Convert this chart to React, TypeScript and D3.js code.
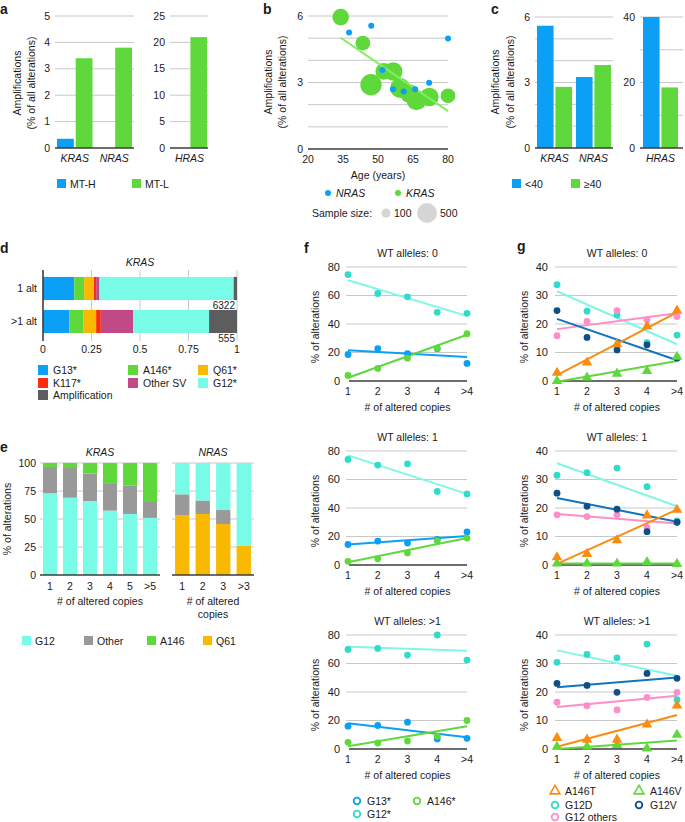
import React from "react";
import * as d3 from "d3";

const FONT = "'Liberation Sans', Arial, Helvetica, sans-serif";
const FS = 10.5;
const GRID = "#c8c8c8";
const AXIS = "#3c3c3c";
const BLUE = "#0ba0f6";
const GREEN = "#5fd83b";
const YELLOW = "#f8b900";
const RED = "#fb2d0b";
const MAGENTA = "#c14a86";
const CYAN = "#79fce7";
const DGRAY = "#5d5d5d";
const MGRAY = "#999999";
const TURQ = "#2fdcc9";
const TURQ_LINE = "#80f6e7";
const ORANGE = "#fa8c10";
const NAVY = "#0d4f86";
const NAVY_LINE = "#1373bd";
const PINK = "#ff8dc8";
const LGREEN_LINE = "#7ff05a";

// ---------- Panel a ----------
const aGenesLeft = ["KRAS", "NRAS"];
const aMTHLeft = [0.35, 0];
const aMTLLeft = [3.4, 3.8];
const aGenesRight = ["HRAS"];
const aMTHRight = [0];
const aMTLRight = [21];
const aTicksLeft = [0, 1, 2, 3, 4, 5];
const aTicksRight = [0, 5, 10, 15, 20, 25];

// ---------- Panel b ----------
const bKrasAge = [34, 43.5, 47, 52.5, 56.5, 59.5, 63.5, 66.5, 72, 80];
const bKrasAmp = [5.95, 4.78, 2.9, 3.5, 3.5, 2.75, 2.5, 2.2, 2.35, 2.4];
const bKrasN = [345, 270, 570, 350, 430, 500, 430, 500, 430, 270];
const bNrasAge = [37.6, 47.1, 51.9, 56.4, 61, 65.9, 71.9, 80];
const bNrasAmp = [5.26, 5.56, 3.56, 2.69, 2.59, 2.69, 2.99, 4.99];
const bNrasN = [45, 45, 45, 45, 45, 45, 45, 45];
const bFitAge = [34, 80];
const bFitAmp = [5.02, 1.71];
const bXTicks = [20, 35, 50, 65, 80];
const bYGrid = [1, 2, 3, 4, 5, 6];
const bYLabels = [0, 3, 6];
const bSizeLegend = [100, 500];

// ---------- Panel c ----------
const cGenesLeft = ["KRAS", "NRAS"];
const cYoungLeft = [5.6, 3.25];
const cOldLeft = [2.8, 3.8];
const cGenesRight = ["HRAS"];
const cYoungRight = [40];
const cOldRight = [18.5];
const cGridLeft = [0, 1, 2, 3, 4, 5, 6];
const cLabelsLeft = [0, 3, 6];
const cGridRight = [0, 10, 20, 30, 40];
const cLabelsRight = [0, 20, 40];

// ---------- Panel d ----------
const dRows = ["1 alt", ">1 alt"];
const dKeys = ["G13*", "A146*", "Q61*", "K117*", "Other SV", "G12*", "Amplification"];
const dColors = [BLUE, GREEN, YELLOW, RED, MAGENTA, CYAN, DGRAY];
const dOneAlt = [0.161, 0.051, 0.05, 0.012, 0.017, 0.692, 0.017];
const dMultiAlt = [0.135, 0.072, 0.067, 0.024, 0.166, 0.392, 0.144];
const dCounts = [6322, 555];
const dTicks = [0, 0.25, 0.5, 0.75, 1];
const dTickLabels = ["0", "0.25", "0.5", "0.75", "1"];

// ---------- Panel e ----------
const eKrasCopies = ["1", "2", "3", "4", "5", ">5"];
const eKrasG12 = [73, 69, 66, 57.5, 54.5, 51];
const eKrasOther = [23.5, 26.5, 24.5, 24.5, 25.5, 15];
const eKrasA146 = [3.5, 4.5, 9.5, 18, 20, 34];
const eNrasCopies = ["1", "2", "3", ">3"];
const eNrasQ61 = [53.5, 54.5, 45.5, 26];
const eNrasOther = [18.5, 12, 12.5, 0];
const eNrasG12 = [28, 33.5, 42, 74];
const eTicks = [0, 25, 50, 75, 100];

// ---------- Panels f & g ----------
const copies = ["1", "2", "3", "4", ">4"];
const fTicks = [0, 20, 40, 60, 80];
const gTicks = [0, 10, 20, 30, 40];
const wtTitles = ["WT  alleles: 0", "WT  alleles: 1", "WT  alleles: >1"];

const fG13 = [
  [18.6, 22.7, 19.2, 22.7, 12.3],
  [14.4, 16.8, 15.4, 18.0, 23.2],
  [16, 16.5, 18.8, 7.1, 7.5],
];
const fG13Fit = [[21.6, 16.9], [14.4, 20.4], [18.1, 8.2]];
const fG12 = [
  [74.7, 61.4, 59.1, 48.2, 47.5],
  [74.1, 70.1, 71.0, 51.6, 49.9],
  [69.9, 70.6, 65.9, 80, 62.4],
];
const fG12Fit = [[70.7, 45.7], [76.9, 49.9], [71.8, 68.9]];
const fA146 = [
  [3.9, 8.8, 16, 23, 33.2],
  [2.6, 4.3, 8.5, 17, 18.9],
  [4.7, 4.2, 5.6, 9, 20],
];
const fA146Fit = [[2.3, 32.5], [1.9, 18.9], [1.9, 16]];

const gA146T = [
  [2.9, 6.5, 12.9, 19.1, 24.7],
  [2.7, 3.9, 8.7, 17.4, 19.4],
  [3.9, 3.3, 3.3, 8.6, 15.3],
];
const gA146TFit = [[2.1, 24.1], [0.4, 19.4], [0.8, 11.9]];
const gA146V = [
  [0, 1.2, 2.6, 3.5, 8.5],
  [0.5, 0.5, 0.5, 1, 0.4],
  [0.8, 0.8, 1.4, 0.2, 5],
];
const gA146VFit = [[-0.3, 7], [0.5, 0.5], [0, 3]];
const gG12D = [
  [33.8, 24.5, 23.2, 13.5, 16.1],
  [31.5, 32.4, 34, 27.5, 15.5],
  [30.4, 33.2, 32, 36.8, 17.3],
];
const gG12DFit = [[31.5, 12.9], [35.7, 20.6], [34.6, 25.7]];
const gG12V = [
  [24.7, 15.3, 10.9, 12.7, 8],
  [25.2, 20.6, 19.6, 11.7, 15],
  [23, 22.3, 19.9, 26.5, 24.8],
];
const gG12VFit = [[21.8, 7.3], [23.5, 15.2], [21.7, 25.1]];
const gG12O = [
  [15.9, 20.9, 24.7, 21.5, 22.6],
  [17.6, 17, 17.6, 13.2, 15],
  [16.4, 15.2, 13.7, 18.1, 19.9],
];
const gG12OFit = [[18.2, 23.8], [17.9, 14.6], [14.7, 18.7]];

// ---------- helpers ----------
const PanelLabel = ({ x, y, t }: { x: number; y: number; t: string }) => (
  <text x={x} y={y} fontSize={14} fontWeight="bold">{t}</text>
);

const VText = ({ x, y, t, fs = FS }: { x: number; y: number; t: string; fs?: number }) => (
  <text transform={`translate(${x},${y}) rotate(-90)`} textAnchor="middle" fontSize={fs}>{t}</text>
);

function GroupedBars(p: {
  gridL: number; gridR: number; bandL: number; bandR: number; top: number; bottom: number;
  max: number; grid: number[]; labels: number[]; genes: string[]; series: number[][]; colors: string[];
}) {
  const y = d3.scaleLinear().domain([0, p.max]).range([p.bottom, p.top]);
  const x0 = d3.scaleBand<string>().domain(p.genes).range([p.bandL, p.bandR]);
  const keys = p.series.map((_, i) => String(i));
  const x1 = d3.scaleBand<string>().domain(keys).range([2, x0.bandwidth() - 2]).paddingInner(0.1);
  return (
    <g>
      {p.grid.filter((t) => t > 0).map((t) => (
        <line key={t} x1={p.gridL} x2={p.gridR} y1={y(t)} y2={y(t)} stroke={GRID} strokeWidth={1} />
      ))}
      {p.labels.map((t) => (
        <text key={t} x={p.gridL - 5} y={y(t)} dy="0.35em" textAnchor="end" fontSize={FS}>{t}</text>
      ))}
      {p.genes.map((g, gi) =>
        p.series.map((s, si) =>
          s[gi] > 0 ? (
            <rect key={g + si} x={(x0(g) as number) + (x1(String(si)) as number)} y={y(s[gi])}
              width={x1.bandwidth()} height={y(0) - y(s[gi])} fill={p.colors[si]} />
          ) : null
        )
      )}
      <line x1={p.gridL} x2={p.gridR} y1={y(0)} y2={y(0)} stroke={AXIS} strokeWidth={1.6} />
      {p.genes.map((g) => (
        <text key={g} x={(x0(g) as number) + x0.bandwidth() / 2} y={p.bottom + 14} textAnchor="middle"
          fontSize={FS} fontStyle="italic">{g}</text>
      ))}
    </g>
  );
}

function SquareLegend({ items, y }: { items: { x: number; label: string; color: string; italic?: boolean }[]; y: number }) {
  return (
    <g>
      {items.map((it) => (
        <g key={it.label}>
          <rect x={it.x} y={y - 5} width={9} height={9} fill={it.color} />
          <text x={it.x + 13} y={y} dy="0.35em" fontSize={FS} fontStyle={it.italic ? "italic" : "normal"}>{it.label}</text>
        </g>
      ))}
    </g>
  );
}

// ---------- Panel b ----------
function PanelB() {
  const x = d3.scaleLinear().domain([20, 80]).range([308, 448]);
  const y = d3.scaleLinear().domain([0, 6]).range([149, 16]);
  const r = d3.scaleSqrt().domain([0, 500]).range([0, 10]);
  return (
    <g>
      <PanelLabel x={263} y={14} t="b" />
      {bYGrid.map((t) => <line key={t} x1={308} x2={448} y1={y(t)} y2={y(t)} stroke={GRID} />)}
      {bYLabels.map((t) => (
        <text key={t} x={303} y={y(t)} dy="0.35em" textAnchor="end" fontSize={FS}>{t}</text>
      ))}
      <line x1={308} x2={448} y1={y(0)} y2={y(0)} stroke={AXIS} strokeWidth={1.6} />
      {bXTicks.map((t) => (
        <text key={t} x={x(t)} y={163} textAnchor="middle" fontSize={FS}>{t}</text>
      ))}
      <text x={378} y={179} textAnchor="middle" fontSize={FS}>Age (years)</text>
      <VText x={272} y={82} t="Amplifications" />
      <VText x={286} y={82} t="(% of all alterations)" />
      {bKrasAge.map((a, i) => (
        <circle key={"k" + i} cx={x(a)} cy={y(bKrasAmp[i])} r={r(bKrasN[i])} fill={GREEN} />
      ))}
      <line x1={x(bFitAge[0])} y1={y(bFitAmp[0])} x2={x(bFitAge[1])} y2={y(bFitAmp[1])} stroke={LGREEN_LINE} strokeWidth={2} />
      {bNrasAge.map((a, i) => (
        <circle key={"n" + i} cx={x(a)} cy={y(bNrasAmp[i])} r={r(bNrasN[i])} fill={BLUE} />
      ))}
      {/* legend */}
      <circle cx={328} cy={193} r={3} fill={BLUE} />
      <text x={336} y={193} dy="0.35em" fontSize={FS} fontStyle="italic">NRAS</text>
      <circle cx={398} cy={193} r={3} fill={GREEN} />
      <text x={406} y={193} dy="0.35em" fontSize={FS} fontStyle="italic">KRAS</text>
      <text x={312} y={213} dy="0.35em" fontSize={FS}>Sample size:</text>
      <circle cx={386} cy={213} r={r(bSizeLegend[0])} fill="#d6d6d6" />
      <text x={394} y={213} dy="0.35em" fontSize={FS}>{bSizeLegend[0]}</text>
      <circle cx={427} cy={213} r={r(bSizeLegend[1])} fill="#d6d6d6" />
      <text x={440} y={213} dy="0.35em" fontSize={FS}>{bSizeLegend[1]}</text>
    </g>
  );
}

// ---------- Panel d ----------
function PanelD() {
  const x = d3.scaleLinear().domain([0, 1]).range([43, 237]);
  const y = d3.scaleBand<string>().domain(dRows).range([272, 338]).paddingInner(0.3).paddingOuter(0.15);
  const rows = [dOneAlt, dMultiAlt];
  const legend = [
    { k: 0, col: 0, row: 0 }, { k: 3, col: 0, row: 1 }, { k: 6, col: 0, row: 2 },
    { k: 1, col: 1, row: 0 }, { k: 4, col: 1, row: 1 },
    { k: 2, col: 2, row: 0 }, { k: 5, col: 2, row: 1 },
  ];
  const colX = [38, 128, 198];
  const rowY = [370, 383, 395];
  return (
    <g>
      <PanelLabel x={0} y={253} t="d" />
      <text x={140} y={266} textAnchor="middle" fontSize={FS} fontStyle="italic">KRAS</text>
      {dTicks.filter((t) => t > 0).map((t) => (
        <line key={t} x1={x(t)} x2={x(t)} y1={270} y2={341} stroke={GRID} />
      ))}
      {rows.map((vals, ri) => {
        const cum = [0, ...Array.from(d3.cumsum(vals))];
        const ry = y(dRows[ri]) as number;
        return (
          <g key={ri}>
            {vals.map((v, i) => (
              <rect key={i} x={x(cum[i])} y={ry} width={x(cum[i + 1]) - x(cum[i])} height={y.bandwidth()} fill={dColors[i]} />
            ))}
            <text x={37} y={ry + y.bandwidth() / 2} dy="0.35em" textAnchor="end" fontSize={FS}>{dRows[ri]}</text>
            <text x={235} y={ry + y.bandwidth() + 9} textAnchor="end" fontSize={FS - 0.5}>{dCounts[ri]}</text>
          </g>
        );
      })}
      <line x1={43} x2={43} y1={270} y2={341} stroke={AXIS} strokeWidth={1.6} />
      {dTicks.map((t, i) => (
        <text key={t} x={x(t)} y={353} textAnchor="middle" fontSize={FS}>{dTickLabels[i]}</text>
      ))}
      {legend.map((l) => (
        <g key={l.k}>
          <rect x={colX[l.col]} y={rowY[l.row] - 5} width={10} height={10} fill={dColors[l.k]} />
          <text x={colX[l.col] + 15} y={rowY[l.row]} dy="0.35em" fontSize={FS}>{dKeys[l.k]}</text>
        </g>
      ))}
    </g>
  );
}

// ---------- Panel e ----------
function StackGroup(p: { cats: string[]; layers: number[][]; colors: string[]; left: number; right: number; y: d3.ScaleLinear<number, number> }) {
  const x = d3.scaleBand<string>().domain(p.cats).range([p.left, p.right]).paddingInner(0.3).paddingOuter(0.15);
  return (
    <g>
      {eTicks.filter((t) => t > 0).map((t) => (
        <line key={t} x1={p.left} x2={p.right} y1={p.y(t)} y2={p.y(t)} stroke={GRID} />
      ))}
      {p.cats.map((c, ci) => {
        let acc = 0;
        return p.layers.map((layer, li) => {
          const v0 = acc;
          acc += layer[ci];
          return layer[ci] > 0 ? (
            <rect key={c + li} x={x(c)} y={p.y(acc)} width={x.bandwidth()} height={p.y(v0) - p.y(acc)} fill={p.colors[li]} />
          ) : null;
        });
      })}
      <line x1={p.left} x2={p.right} y1={p.y(0)} y2={p.y(0)} stroke={AXIS} strokeWidth={1.6} />
      {p.cats.map((c) => (
        <text key={c} x={(x(c) as number) + x.bandwidth() / 2} y={590} textAnchor="middle" fontSize={FS}>{c}</text>
      ))}
    </g>
  );
}

function PanelE() {
  const y = d3.scaleLinear().domain([0, 100]).range([575, 463]);
  return (
    <g>
      <PanelLabel x={0} y={452} t="e" />
      <text x={100} y={456} textAnchor="middle" fontSize={FS} fontStyle="italic">KRAS</text>
      <text x={213} y={456} textAnchor="middle" fontSize={FS} fontStyle="italic">NRAS</text>
      {eTicks.map((t) => (
        <text key={t} x={36} y={y(t)} dy="0.35em" textAnchor="end" fontSize={FS}>{t}</text>
      ))}
      <VText x={11} y={519} t="% of alterations" />
      <StackGroup cats={eKrasCopies} layers={[eKrasG12, eKrasOther, eKrasA146]} colors={[CYAN, MGRAY, GREEN]} left={40} right={160} y={y} />
      <StackGroup cats={eNrasCopies} layers={[eNrasQ61, eNrasOther, eNrasG12]} colors={[YELLOW, MGRAY, CYAN]} left={172} right={254} y={y} />
      <text x={100} y={605} textAnchor="middle" fontSize={FS}># of altered copies</text>
      <text x={213} y={605} textAnchor="middle" fontSize={FS}># of altered</text>
      <text x={213} y={618} textAnchor="middle" fontSize={FS}>copies</text>
      <SquareLegend y={641} items={[
        { x: 22, label: "G12", color: CYAN },
        { x: 84, label: "Other", color: MGRAY },
        { x: 147, label: "A146", color: GREEN },
        { x: 203, label: "Q61", color: YELLOW },
      ]} />
    </g>
  );
}

// ---------- Panels f/g ----------
type Ser = { values: number[]; fit: number[]; pc: string; lc: string; shape: "c" | "t" };

function LinePanel(p: { left: number; right: number; top: number; max: number; ticks: number[]; title: string; series: Ser[]; labelGap: number; yTitleX: number }) {
  const bottom = p.top + 114;
  const x = d3.scalePoint<string>().domain(copies).range([p.left, p.right]);
  const y = d3.scaleLinear().domain([0, p.max]).range([bottom, p.top]);
  const tri = d3.symbol().type(d3.symbolTriangle).size(48)() as string;
  return (
    <g>
      <text x={(p.left + p.right) / 2} y={p.top - 10} textAnchor="middle" fontSize={FS}>{p.title}</text>
      {p.ticks.filter((t) => t > 0).map((t) => (
        <line key={t} x1={p.left - 2} x2={p.right} y1={y(t)} y2={y(t)} stroke={GRID} />
      ))}
      {p.ticks.map((t) => (
        <text key={t} x={p.left - p.labelGap} y={y(t)} dy="0.35em" textAnchor="end" fontSize={FS + 0.5}>{t}</text>
      ))}
      <line x1={p.left + 1} x2={p.right} y1={y(0)} y2={y(0)} stroke={AXIS} strokeWidth={1.6} />
      <VText x={p.yTitleX} y={(p.top + bottom) / 2 + 3} t="% of alterations" />
      {p.series.map((s, i) => (
        <line key={"l" + i} x1={x(copies[0])} x2={x(copies[copies.length - 1])} y1={y(s.fit[0])} y2={y(s.fit[1])}
          stroke={s.lc} strokeWidth={2} />
      ))}
      {p.series.map((s, i) =>
        s.values.map((v, j) =>
          s.shape === "c" ? (
            <circle key={"p" + i + "-" + j} cx={x(copies[j])} cy={y(v)} r={3.4} fill={s.pc} />
          ) : (
            <path key={"p" + i + "-" + j} d={tri} transform={`translate(${x(copies[j])},${y(v)})`} fill={s.pc} />
          )
        )
      )}
      {copies.map((c) => (
        <text key={c} x={x(c)} y={bottom + 14} textAnchor="middle" fontSize={FS}>{c}</text>
      ))}
      <text x={(p.left + p.right) / 2} y={bottom + 30} textAnchor="middle" fontSize={FS}># of altered copies</text>
    </g>
  );
}

const subTops = [267, 451, 635];

function PanelF() {
  return (
    <g>
      <PanelLabel x={304} y={253} t="f" />
      {subTops.map((top, i) => (
        <LinePanel key={i} left={348} right={467} top={top} max={80} ticks={fTicks} title={wtTitles[i]} labelGap={8} yTitleX={319}
          series={[
            { values: fG12[i], fit: fG12Fit[i], pc: TURQ, lc: TURQ_LINE, shape: "c" },
            { values: fG13[i], fit: fG13Fit[i], pc: BLUE, lc: BLUE, shape: "c" },
            { values: fA146[i], fit: fA146Fit[i], pc: GREEN, lc: GREEN, shape: "c" },
          ]} />
      ))}
      <g fontSize={FS}>
        <circle cx={357} cy={801} r={3.3} fill="none" stroke={BLUE} strokeWidth={1.8} />
        <text x={367} y={801} dy="0.35em" fontSize={FS}>G13*</text>
        <circle cx={417} cy={801} r={3.3} fill="none" stroke={GREEN} strokeWidth={1.8} />
        <text x={427} y={801} dy="0.35em" fontSize={FS}>A146*</text>
        <circle cx={357} cy={814} r={3.3} fill="none" stroke={TURQ} strokeWidth={1.8} />
        <text x={367} y={814} dy="0.35em" fontSize={FS}>G12*</text>
      </g>
    </g>
  );
}

function PanelG() {
  const tri = d3.symbol().type(d3.symbolTriangle).size(42)() as string;
  return (
    <g>
      <PanelLabel x={517} y={251} t="g" />
      {subTops.map((top, i) => (
        <LinePanel key={i} left={557} right={677} top={top} max={40} ticks={gTicks} title={wtTitles[i]} labelGap={9} yTitleX={528}
          series={[
            { values: gG12D[i], fit: gG12DFit[i], pc: TURQ, lc: TURQ_LINE, shape: "c" },
            { values: gG12O[i], fit: gG12OFit[i], pc: PINK, lc: PINK, shape: "c" },
            { values: gG12V[i], fit: gG12VFit[i], pc: NAVY, lc: NAVY_LINE, shape: "c" },
            { values: gA146V[i], fit: gA146VFit[i], pc: GREEN, lc: GREEN, shape: "t" },
            { values: gA146T[i], fit: gA146TFit[i], pc: ORANGE, lc: ORANGE, shape: "t" },
          ]} />
      ))}
      <path d={tri} transform="translate(555,791)" fill="none" stroke={ORANGE} strokeWidth={1.6} />
      <text x={565} y={791} dy="0.35em" fontSize={FS}>A146T</text>
      <path d={tri} transform="translate(639,791)" fill="none" stroke={GREEN} strokeWidth={1.6} />
      <text x={650} y={791} dy="0.35em" fontSize={FS}>A146V</text>
      <circle cx={555} cy={805} r={3.3} fill="none" stroke={TURQ} strokeWidth={1.8} />
      <text x={565} y={805} dy="0.35em" fontSize={FS}>G12D</text>
      <circle cx={639} cy={805} r={3.3} fill="none" stroke={NAVY} strokeWidth={1.8} />
      <text x={650} y={805} dy="0.35em" fontSize={FS}>G12V</text>
      <circle cx={555} cy={817} r={3.3} fill="none" stroke={PINK} strokeWidth={1.8} />
      <text x={565} y={817} dy="0.35em" fontSize={FS}>G12 others</text>
    </g>
  );
}

export default function App() {
  return (
    <svg width={685} height={822} style={{ position: "absolute", left: 0, top: 0, background: "#fff" }}
      fontFamily={FONT} fill="#1a1a1a">
      {/* Panel a */}
      <PanelLabel x={0} y={14} t="a" />
      <VText x={21} y={83} t="Amplifications" />
      <VText x={35} y={83} t="(% of all alterations)" />
      <GroupedBars gridL={55} gridR={134} bandL={55} bandR={134} top={16} bottom={148} max={5}
        grid={aTicksLeft} labels={aTicksLeft} genes={aGenesLeft} series={[aMTHLeft, aMTLLeft]} colors={[BLUE, GREEN]} />
      <GroupedBars gridL={170} gridR={208} bandL={170} bandR={209} top={16} bottom={148} max={25}
        grid={aTicksRight} labels={aTicksRight} genes={aGenesRight} series={[aMTHRight, aMTLRight]} colors={[BLUE, GREEN]} />
      <SquareLegend y={184} items={[
        { x: 57, label: "MT-H", color: BLUE },
        { x: 132, label: "MT-L", color: GREEN },
      ]} />

      <PanelB />

      {/* Panel c */}
      <PanelLabel x={491} y={14} t="c" />
      <VText x={499} y={82} t="Amplifications" />
      <VText x={514} y={82} t="(% of all alterations)" />
      <GroupedBars gridL={535} gridR={613} bandL={535} bandR={613} top={17} bottom={148} max={6}
        grid={cGridLeft} labels={cLabelsLeft} genes={cGenesLeft} series={[cYoungLeft, cOldLeft]} colors={[BLUE, GREEN]} />
      <GroupedBars gridL={640} gridR={683} bandL={641} bandR={680} top={17} bottom={148} max={40}
        grid={cGridRight} labels={cLabelsRight} genes={cGenesRight} series={[cYoungRight, cOldRight]} colors={[BLUE, GREEN]} />
      <SquareLegend y={184} items={[
        { x: 512, label: "<40", color: BLUE },
        { x: 571, label: "≥40", color: GREEN },
      ]} />

      <PanelD />
      <PanelE />
      <PanelF />
      <PanelG />
    </svg>
  );
}
